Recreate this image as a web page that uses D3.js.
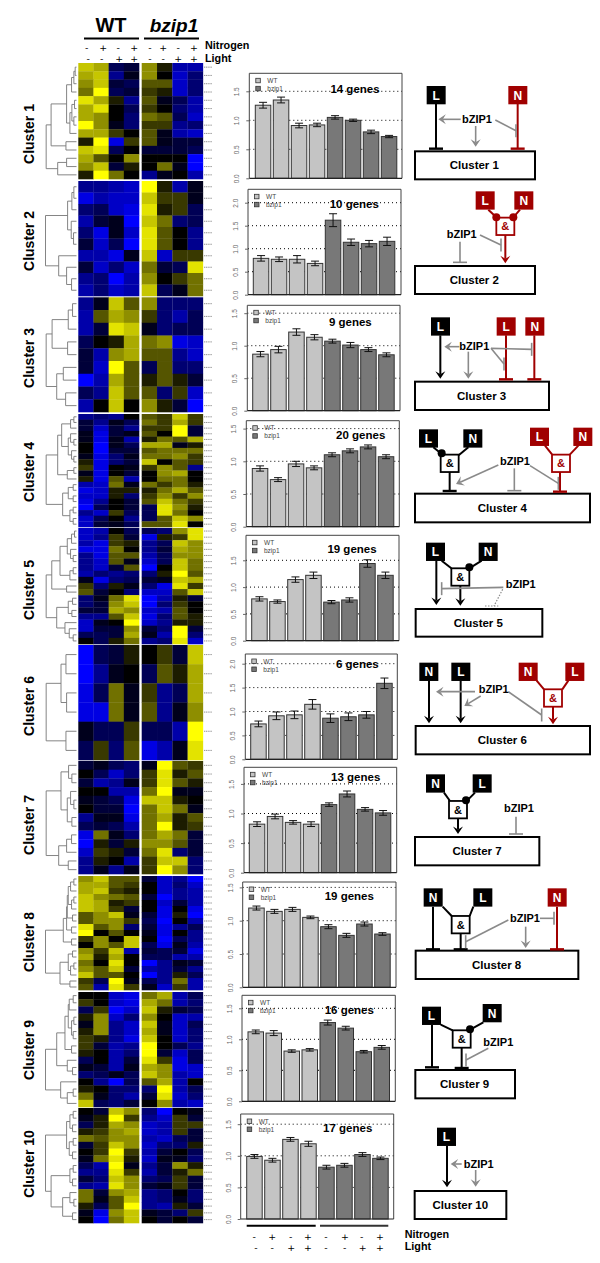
<!DOCTYPE html>
<html><head><meta charset="utf-8">
<script src="https://cdn.jsdelivr.net/npm/d3@7"></script>
<style>html,body{margin:0;padding:0;background:#fff}svg{display:block}text{font-family:"Liberation Sans",Arial,sans-serif}</style>
</head><body><svg id="c" width="600" height="1263"></svg>
<script>
// ---------- data: expression level, -9 (blue) .. +9 (yellow); columns WT x4 then bzip1 x4
const heat1=[[7,6,-3,-2,5,1,-6,-6],[6,7,-5,-1,5,0,-7,-4],[5,7,-2,-3,3,3,-7,-4],[4,9,-3,-2,2,1,-7,-4],[8,6,1,-5,3,-1,-3,-6],[6,8,0,-3,2,0,-4,-6],[6,5,0,-4,4,3,-3,-7],[9,5,-1,-4,2,2,-5,-4],[6,6,2,0,3,-1,-6,-7],[1,9,-8,2,3,-1,-2,-2],[7,8,-3,0,-2,-2,-2,-3],[6,3,0,5,0,0,0,-9],[5,7,-2,1,0,4,-1,-9],[1,9,4,0,-5,-1,0,-6]];
const heat2=[[-5,-5,-6,-7,9,1,-6,-1],[-8,-6,-7,-7,7,2,2,-1],[-4,-3,-7,-8,8,1,2,-3],[-6,-2,-1,-9,7,4,-4,-3],[-4,-8,-1,-7,8,3,0,-5],[-2,-7,-3,-9,8,3,0,-5],[-6,-6,-8,-1,7,-7,2,2],[-2,-7,-4,-7,4,-2,-3,8],[-5,-4,-9,-6,5,0,2,4],[-6,-4,-7,-6,7,-3,-1,4]];
const heat3=[[-5,-1,7,3,5,-4,-4,-4],[-6,3,6,5,2,-4,-6,-3],[-6,-2,8,7,-1,-4,-3,-3],[-3,0,1,6,4,5,-8,-7],[-2,-6,5,6,3,3,-5,-7],[-2,-7,9,3,-3,3,-4,-4],[-9,-6,6,3,1,3,1,-2],[-3,-5,7,3,3,-4,2,-7],[-6,0,7,0,5,1,-2,-9]];
const heat4=[[-5,-4,-5,0,3,2,7,2],[-2,-5,-1,-3,4,2,6,2],[-2,-7,-2,-5,2,2,9,-2],[-1,-8,-2,-1,3,0,9,-2],[-1,-8,-1,-6,1,4,3,6],[0,-9,-1,-3,6,6,-1,1],[0,-9,-2,-2,3,4,4,4],[-1,-8,-4,-1,4,4,5,2],[1,-8,-4,-2,7,0,3,2],[2,-8,0,-1,2,5,3,-5],[-1,-8,0,-2,0,5,6,0],[1,-8,3,-6,0,4,4,0],[-6,-7,4,-1,4,2,4,1],[-8,-7,1,1,1,4,6,3],[-7,-7,1,-4,2,5,2,5],[-8,-5,0,-2,3,7,4,2],[-9,-3,0,-2,-3,8,5,1],[-5,-7,2,-3,-3,8,4,0],[-7,-3,0,-5,-3,3,7,5],[-7,-2,-1,-3,3,3,8,0]];
const heat5=[[-7,-6,0,-3,-3,-4,5,8],[-7,-5,2,-2,-8,1,2,8],[-6,-8,2,1,-5,-3,7,5],[-8,-8,4,0,-5,-2,6,5],[-5,-8,3,3,-6,-3,5,5],[-5,-7,3,-1,-7,-3,7,4],[-5,-7,-2,3,-9,0,7,4],[-6,-4,-5,-4,-4,1,9,3],[-1,-8,-4,-3,-2,-1,7,6],[2,-4,1,-1,-4,-8,8,2],[3,-2,0,-4,-7,-7,3,7],[-4,-1,4,8,-9,-6,1,-2],[-4,-2,5,7,-9,-4,2,0],[-2,-2,6,5,-7,-6,3,0],[-5,-5,3,7,-8,-4,3,1],[-7,-1,0,9,-7,-5,1,1],[-7,-2,-2,5,-2,-4,9,-2],[-3,-3,-2,6,-1,-6,9,-4],[0,-3,1,4,-5,-4,8,-7]];
const heat6=[[-9,-3,-2,1,0,2,-2,7],[-9,-5,-1,0,-3,3,1,6],[-8,-3,4,-1,2,-5,-3,6],[-8,-8,4,-1,3,-5,-1,5],[-1,-3,-3,2,-3,-3,-6,9],[-3,2,-4,3,-8,-6,-1,8]];
const heat7=[[-2,-1,-3,-4,-1,9,3,2],[0,-3,-7,-4,2,8,1,3],[-2,-6,-5,-1,2,8,3,1],[0,0,-6,-6,4,9,-1,-1],[-1,-2,-3,-8,7,7,1,0],[0,-2,-2,-9,4,7,4,-1],[-5,-1,-1,-8,4,6,1,3],[-3,-2,-3,-6,4,9,1,2],[-8,4,-1,-4,4,6,4,-2],[-9,1,-2,1,5,5,3,-2],[-7,2,1,-2,4,8,-4,-2],[-5,1,0,-6,2,7,7,-4],[-5,-1,-5,-1,2,9,5,-4]];
const heat8=[[5,7,3,3,-2,-7,-5,-9],[6,6,3,2,0,-7,-4,-7],[6,7,2,1,0,-7,-5,-6],[7,5,4,3,-2,-9,-5,-6],[7,6,1,2,0,-7,-2,-6],[7,6,2,-2,0,-8,0,-8],[3,5,7,-1,-2,-8,1,-9],[3,5,5,2,-3,-9,0,-6],[8,3,5,-4,-2,-8,-5,-3],[9,0,3,0,-1,-8,0,-5],[2,5,0,7,0,-9,-3,-5],[0,5,3,7,-3,-8,-1,-6],[5,2,7,-6,-2,-3,-2,-8],[6,1,6,0,-3,-3,-6,-6],[4,0,8,0,-9,-5,-1,-2],[5,3,7,-2,-6,-5,-2,-5],[7,3,3,0,-9,-5,1,-3],[2,-3,9,-1,-3,-5,4,-6],[3,-6,8,2,-1,-7,2,-6]];
const heat9=[[0,0,-7,-8,4,6,-6,-3],[2,0,-7,-8,6,4,-6,-4],[-3,2,-9,-7,7,1,-2,-3],[1,5,-7,-4,5,0,-7,-6],[-1,5,-5,-7,7,-1,-7,-3],[1,5,-5,-7,6,-1,-7,-4],[2,1,-5,-8,7,0,-7,-4],[2,-2,-6,-5,9,0,-3,-5],[1,0,-6,-4,9,-2,-7,-3],[-3,0,-6,-2,8,2,-8,-3],[-1,-2,-6,-1,6,5,-8,-7],[-4,-3,-1,-3,7,5,-6,-7],[0,-5,-9,-3,3,6,-6,0],[1,0,-4,-4,-4,9,-6,-3],[4,-1,-4,-6,-2,8,-7,-4],[7,-3,-4,-2,0,5,-6,-7]];
const heat10=[[0,-2,7,5,-4,-9,0,-1],[-1,1,9,2,-5,-7,2,-2],[-3,1,6,5,-7,-6,2,2],[1,2,5,6,-7,-6,2,-2],[4,3,5,5,-6,-7,-3,-2],[-2,2,7,5,-7,-4,-4,1],[0,2,9,2,-6,-2,0,-3],[-1,4,8,1,-7,-1,-1,-4],[-3,-6,9,-1,-5,-2,5,1],[-5,-5,8,2,-6,-2,1,4],[-2,-4,7,5,-4,-3,2,-2],[-5,-6,8,5,-2,-1,2,-2],[4,-2,5,6,-5,-4,0,-4],[4,-1,3,7,-5,-4,-1,-4],[1,-3,3,9,-5,-6,1,-2],[-1,-8,5,7,-1,-2,-4,2],[0,-9,4,7,0,-2,0,-2]];
const heats=[heat1,heat2,heat3,heat4,heat5,heat6,heat7,heat8,heat9,heat10];

// dendrograms: [merge height, left, right], 0 = leaf
const tree1=[92,[77,[30,[15,[8,[4,0,0],0],0],[20,[14,[6,0,0],[8,0,0]],0]],[32,0,0]],[57,[30,0,0],0]];
const tree2=[94,[27,[14,[8,0,0],0],[16,0,[9,0,0]]],[54,0,[30,0,[15,0,0]]]];
const tree3=[92,[74,[25,[12,0,0],0],[27,0,0]],[60,[40,0,0],[33,0,0]]];
const tree4=[92,[57,[45,[18,[8,0,0],0],[25,[18,0,[8,0,0]],[15,0,[8,0,0]]]],[28,[8,0,0],0]],[42,[25,[10,0,0],[10,0,0]],[20,[10,0,0],[10,0,0]]]];
const tree5=[92,[75,[50,[28,[15,[6,0,0],0],[18,0,[10,0,0]]],[20,[10,0,0],0]],[30,0,0]],[60,[25,[12,0,0],[14,0,0]],[35,0,[22,0,[10,0,0]]]]];
const tree6=[92,[47,[32,0,0],[30,0,0]],[32,0,0]];
const tree7=[92,[47,[24,0,[14,0,0]],[28,[18,0,[8,0,0]],[14,0,0]]],[54,[30,[15,0,0],0],[25,0,0]]];
const tree8=[94,[40,[30,[28,[25,[18,[8,0,0],0],[15,[8,0,0],0]],[12,0,0]],[15,0,0]],[15,0,0]],[50,[25,[12,0,0],[18,[8,0,0],0]],[20,0,0]]];
const tree9=[94,[60,[35,[25,[22,[10,0,0],0],[15,[8,0,0],[10,0,0]]],[15,0,0]],[28,0,[12,0,0]]],[48,0,[28,[10,0,0],0]]];
const tree10=[94,[30,[20,[10,0,0],[12,0,0]],[22,[10,0,0],[12,0,0]]],[77,[20,[10,0,0],[12,0,0]],[42,[20,0,[8,0,0]],[12,0,0]]]];
const trees=[tree1,tree2,tree3,tree4,tree5,tree6,tree7,tree8,tree9,tree10];

// bar chart values
const conditions=["WT--","WT+-","WT-+","WT++","bz--","bz+-","bz-+","bz++"];
const means1=[1.26,1.35,.91,.92,1.05,1.0,.80,.72], errs1=[.05,.05,.04,.03,.03,.02,.03,.02];
const means2=[.79,.77,.77,.68,1.62,1.14,1.11,1.16], errs2=[.06,.05,.08,.05,.14,.07,.07,.09];
const means3=[.87,.94,1.21,1.13,1.07,1.01,.94,.86], errs3=[.04,.05,.05,.04,.03,.04,.03,.03];
const means4=[.89,.72,.96,.90,1.10,1.16,1.22,1.07], errs4=[.04,.03,.04,.03,.03,.03,.03,.03];
const means5=[.78,.73,1.14,1.22,.72,.76,1.44,1.22], errs5=[.04,.03,.05,.06,.03,.04,.07,.06];
const means6=[.74,.91,.93,1.15,.86,.89,.93,1.59], errs6=[.06,.08,.08,.10,.09,.08,.07,.11];
const means7=[.82,.95,.85,.82,1.15,1.33,1.07,1.01], errs7=[.04,.04,.03,.04,.03,.05,.03,.04];
const means8=[1.19,1.14,1.17,1.05,.91,.78,.95,.80], errs8=[.03,.03,.03,.02,.03,.03,.03,.02];
const means9=[1.12,1.10,.81,.83,1.27,1.18,.80,.87], errs9=[.03,.04,.02,.02,.04,.03,.02,.03];
const means10=[.99,.93,1.26,1.19,.82,.85,1.02,.96], errs10=[.03,.03,.03,.04,.03,.03,.03,.02];
const meansAll=[means1,means2,means3,means4,means5,means6,means7,means8,means9,means10];
const errsAll=[errs1,errs2,errs3,errs4,errs5,errs6,errs7,errs8,errs9,errs10];
const geneLabels=["14 genes","10 genes","9 genes","20 genes","19 genes","6 genes","13 genes","19 genes","16 genes","17 genes"];
const clusterNames=d3.range(1,11).map(i=>"Cluster "+i);
const axisTicks=[[0,.5,1,1.5],[0,.5,1,1.5,2],[0,.5,1,1.5],[0,.5,1,1.5],[0,.5,1,1.5],[0,.5,1,1.5,2],[0,.5,1,1.5],[0,.5,1,1.5],[0,.5,1,1.5],[0,.5,1,1.5]];
const nitrogenSigns=["-","+","-","+","-","+","-","+"], lightSigns=["-","-","+","+","-","-","+","+"];

// ---------- layout
const heatY=[[63,179],[181,296],[297.3,412],[414,527],[528,644],[645,760],[761,874],[876,990],[992,1107],[1108,1223]];
const clusterLabelY=[134,241,358,472,590,706,825,942,1050,1164];
// frame left, right, top, bottom(y of 0), px per 0.5, first bar x, count label cx, cy
const panels=[[249.3,402,73.3,178.3,29,255.3,355,89],[248,401,189.3,294.7,23,253.3,354.3,204],[247.3,400,305.3,410.7,32.5,252.7,350.3,321.7],[246.3,399.3,420.7,526.7,32.7,252.3,360.7,434.7],[246,399,535.3,640.7,26.8,251.7,352,548.7],[245.3,397.3,654,759.3,23.9,250.7,357.3,664.3],[244,396.7,767.3,872.7,29.6,249.3,355.7,777.3],[242.7,396,882,987.3,33.3,248.7,349.3,895.7],[242,395.3,995.3,1101.3,31,248,349.3,1009.7],[240.7,393.7,1114,1219,31.6,246.7,347.7,1127.7]];
const COL={k:"#000",r:"#a00000",g:"#8a8a8a"};

// schematic regulatory diagrams, coordinates in 3x units relative to an origin
const diagrams=[
{o:[220,60],box:[585,274,945,358],t:[763,316],bz:[771,178],nodes:[["L",620,78,"k"],["N",865,78,"r"]],ands:[],dots:[],lines:[],
 edges:[["tee",648,132,648,266,"k"],["tee",893,132,893,266,"r"],["arrow",722,178,655,178,"g"],["arrow",767,198,767,260,"g"],["tee",826,180,888,212,"g"]]},
{o:[220,60],box:[585,618,945,702],t:[763,660],bz:[725,522],nodes:[["L",767,394,"r"],["N",883,394,"r"]],ands:[[856,499,"r"]],dots:[[829,472,"r"],[880,472,"r"]],lines:[[805,449,829,472,"r"],[900,449,880,472,"r"]],
 edges:[["arrow",856,525,856,610,"r"],["tee",720,545,720,607,"g"],["tee",780,525,843,555,"g"]]},
{o:[220,300],box:[585,245,987,330],t:[785,288],bz:[763,138],nodes:[["L",633,52,"k"],["L",830,52,"r"],["N",916,52,"r"]],ands:[],dots:[],lines:[],
 edges:[["arrow",661,106,661,236,"k"],["tee",858,106,858,238,"r"],["tee",943,106,943,238,"r"],["arrow",718,140,673,140,"g"],["arrow",745,155,745,236,"g"],["tee",813,145,852,192,"g"],["tee",813,145,935,148,"g"]]},
{o:[220,300],box:[585,581,1110,667],t:[847,624],bz:[885,482],nodes:[["L",597,388,"k"],["N",730,388,"k"],["L",930,383,"r"],["N",1060,383,"r"]],ands:[[689,490,"k"],[1023,490,"r"]],dots:[[665,460,"k"]],lines:[[640,442,665,462,"k"],[745,442,716,466,"k"],[975,437,996,463,"r"],[1075,437,1050,463,"r"]],
 edges:[["tee",689,516,689,573,"k"],["tee",1020,516,1020,575,"r"],["tee",883,505,883,572,"g"],["arrow",835,495,708,552,"g"],["tee",930,497,1015,550,"g"]]},
{o:[220,300],box:[587,927,967,1010],t:[775,969],bz:[902,853],nodes:[["L",618,728,"k"],["N",776,728,"k"]],ands:[[721,831,"k"]],dots:[[748,802,"k"]],lines:[[665,782,694,805,"k"],[785,782,748,805,"k"]],
 edges:[["arrow",649,782,649,915,"k"],["arrow",721,857,721,917,"k"],["tee",850,862,665,866,"g"],["dot",848,868,822,918,"g"],["dot",795,918,835,918,"g"]]},
{o:[220,640],box:[587,258,1110,343],t:[847,300],bz:[821,148],nodes:[["N",598,68,"k"],["L",694,68,"k"],["N",896,68,"r"],["L",1036,68,"r"]],ands:[[999,174,"r"]],dots:[],lines:[[950,122,972,148,"r"],[1045,122,1027,148,"r"]],
 edges:[["arrow",627,122,627,250,"k"],["arrow",722,122,722,250,"k"],["arrow",999,200,999,253,"r"],["arrow",765,155,648,155,"g"],["arrow",782,168,733,198,"g"],["tee",865,155,965,225,"g"]]},
{o:[220,640],box:[585,591,958,676],t:[771,633],bz:[897,505],nodes:[["N",618,403,"k"],["L",758,403,"k"]],ands:[[714,509,"k"]],dots:[[738,481,"k"]],lines:[[672,458,690,483,"k"],[765,458,742,481,"k"]],
 edges:[["arrow",714,535,714,582,"k"],["tee",888,530,888,582,"g"]]},
{o:[220,640],box:[587,932,1075,1017],t:[830,974],bz:[915,835],nodes:[["N",611,745,"k"],["L",760,745,"k"],["N",983,745,"r"]],ands:[[722,854,"k"]],dots:[],lines:[[668,800,695,828,"k"],[760,800,749,828,"k"]],
 edges:[["tee",639,800,639,928,"k"],["tee",722,880,722,928,"k"],["tee",1011,800,1011,928,"r"],["tee",865,840,737,905,"g"],["arrow",917,860,917,924,"g"],["tee",960,835,1002,835,"g"]]},
{o:[220,980],box:[586,270,885,355],t:[734,312],bz:[835,186],nodes:[["L",606,80,"k"],["N",788,72,"k"]],ands:[[725,177,"k"]],dots:[[750,148,"k"]],lines:[[662,134,698,151,"k"],[790,127,752,148,"k"]],
 edges:[["tee",636,135,636,262,"k"],["tee",725,204,725,264,"k"],["tee",805,205,738,240,"g"]]},
{o:[220,980],box:[584,633,859,717],t:[721,675],bz:[776,552],nodes:[["L",651,443,"k"]],ands:[],dots:[],lines:[],
 edges:[["arrow",681,497,681,622,"k"],["arrow",725,552,692,552,"g"],["arrow",767,570,767,620,"g"]]}
];

// ---------- drawing
const svg=d3.select("#c");
const color=d3.scaleLinear().domain([-9,0,9]).range(["#0000ff","#000000","#ffff00"]);
const colWT=d3.scaleBand().domain(d3.range(4)).range([78.3,139]);
const colBZ=d3.scaleBand().domain(d3.range(4)).range([141.7,203]);
const txt=(g,x,y,s,o={})=>g.append("text").attr("x",x).attr("y",y).text(s)
  .attr("font-size",o.size||11).attr("font-weight",o.weight||"bold").attr("font-style",o.style||null)
  .attr("text-anchor",o.anchor||"middle").attr("fill",o.fill||"#000").attr("transform",o.tf||null);
const sign=(x,y,s)=>txt(svg,x,y,s,{size:9.4,weight:"normal"}).style("font-family","'DejaVu Sans',sans-serif");

// header
txt(svg,111,32,"WT",{size:20});
txt(svg,174,32,"bzip1",{size:19,style:"italic"});
svg.append("line").attr("x1",84).attr("x2",139).attr("y1",38.5).attr("y2",38.5).attr("stroke","#000").attr("stroke-width",2);
svg.append("line").attr("x1",144).attr("x2",199).attr("y1",38.5).attr("y2",38.5).attr("stroke","#000").attr("stroke-width",2);
const topX1=[86.7,103.3,118.3,134.3,150,163.3,178.3,194], topX2=[88.3,101.7,119.3,134.3,150,163.3,178.3,194];
nitrogenSigns.forEach((s,i)=>sign(topX1[i],51,s));
lightSigns.forEach((s,i)=>sign(topX2[i],62,s));
txt(svg,205,49,"Nitrogen",{size:10.8,anchor:"start"});
txt(svg,205,61.5,"Light",{size:10.8,anchor:"start"});

// heatmaps, dendrograms, labels
const dendX=d3.scaleLinear().domain([0,94]).range([76.5,45.5]);
heats.forEach((rows,ci)=>{
  const g=svg.append("g");
  const [top,bot]=heatY[ci];
  const yb=d3.scaleBand().domain(d3.range(rows.length)).range([top,bot]);
  rows.forEach((row,r)=>{
    g.selectAll(null).data(row).enter().append("rect")
      .attr("x",(v,i)=>i<4?colWT(i):colBZ(i-4))
      .attr("y",yb(r)).attr("width",colWT.bandwidth()+.3).attr("height",yb.bandwidth()+.3)
      .attr("fill",v=>color(v));
    g.append("line").attr("x1",204).attr("x2",212).attr("y1",yb(r)+yb.bandwidth()/2).attr("y2",yb(r)+yb.bandwidth()/2)
      .attr("stroke","#777").attr("stroke-width",.8).attr("stroke-dasharray","1.2,.6");
  });
  let leaf=0;
  const d=[];
  const walk=n=>{
    if(n===0){const y=yb(leaf)+yb.bandwidth()/2;leaf++;return {x:dendX(0),y};}
    const a=walk(n[1]),b=walk(n[2]),x=dendX(n[0]);
    d.push(`M${a.x},${a.y}H${x}V${b.y}H${b.x}`);
    return {x,y:(a.y+b.y)/2};
  };
  walk(trees[ci]);
  g.append("path").attr("d",d.join("")).attr("fill","none").attr("stroke","#777").attr("stroke-width",.9);
  txt(g,0,0,clusterNames[ci],{size:14,tf:`translate(34,${clusterLabelY[ci]}) rotate(-90)`});
});

// bar panels
panels.forEach((p,ci)=>{
  const [xl,xr,yt,y0,half,x0,cx,cy]=p;
  const g=svg.append("g");
  const x=d3.scaleBand().domain(conditions).range([x0,x0+8*18-2.5]).paddingInner(2.5/18).paddingOuter(0);
  const y=d3.scaleLinear().domain([0,1]).range([y0,y0-2*half]);
  const ticks=axisTicks[ci];
  g.selectAll(null).data(ticks.slice(1)).enter().append("line")
    .attr("x1",xl).attr("x2",xr).attr("y1",y).attr("y2",y)
    .attr("stroke","#000").attr("stroke-width",1).attr("stroke-dasharray","1,3");
  txt(g,cx,cy+4,geneLabels[ci],{size:11.5});
  g.selectAll(null).data(conditions).enter().append("rect")
    .attr("x",c=>x(c)).attr("width",x.bandwidth())
    .attr("y",(c,i)=>y(meansAll[ci][i])).attr("height",(c,i)=>y0-y(meansAll[ci][i]))
    .attr("fill",(c,i)=>i<4?"#c4c4c4":"#787878").attr("stroke","#333").attr("stroke-width",1);
  conditions.forEach((c,i)=>{
    const m=meansAll[ci][i],e=errsAll[ci][i],mx=x(c)+x.bandwidth()/2;
    const pth=`M${mx-4},${y(m+e)}H${mx+4}M${mx},${y(m+e)}V${y(m-e)}M${mx-4},${y(m-e)}H${mx+4}`;
    g.append("path").attr("d",pth).attr("fill","none").attr("stroke","#111").attr("stroke-width",1);
  });
  g.append("path").attr("d",`M${xl},${y0}V${yt}H${xr}V${y0}`).attr("fill","none").attr("stroke","#444").attr("stroke-width",1);
  g.append("line").attr("x1",xl).attr("x2",xr).attr("y1",y0).attr("y2",y0).attr("stroke","#222").attr("stroke-width",1.2);
  const ax=g.append("g").attr("transform",`translate(${xl},0)`)
    .call(d3.axisLeft(y).tickValues(ticks).tickSize(3).tickFormat(d3.format(".1f")));
  ax.select(".domain").remove();
  ax.selectAll("line").attr("stroke","#666");
  ax.selectAll("text").attr("font-family","'Liberation Sans',Arial,sans-serif").attr("font-size",6.5).attr("fill","#666")
    .attr("x",null).attr("dy",null).attr("text-anchor","middle")
    .attr("transform","translate(-10,0) rotate(-90)");
  // legend
  [["WT","#c4c4c4"],["bzip1","#787878"]].forEach((l,i)=>{
    g.append("rect").attr("x",xl+6.5).attr("y",yt+5+i*8).attr("width",4.5).attr("height",4.5).attr("fill",l[1]).attr("stroke","#333").attr("stroke-width",.8);
    txt(g,xl+18,yt+9.5+i*8,l[0],{size:6.5,weight:"normal",anchor:"start",fill:"#444"});
  });
});

// x-axis brackets under last panel
svg.append("line").attr("x1",246.7).attr("x2",315.7).attr("y1",1225.7).attr("y2",1225.7).attr("stroke","#000").attr("stroke-width",2);
svg.append("line").attr("x1",320).attr("x2",388.3).attr("y1",1225.7).attr("y2",1225.7).attr("stroke","#333").attr("stroke-width",2);
const botX1=[254.3,272.3,290.7,308,326,345,361.7,380], botX2=[256,272.3,291.3,308,326,344.7,362.7,380];
nitrogenSigns.forEach((s,i)=>sign(botX1[i],1240,s));
lightSigns.forEach((s,i)=>sign(botX2[i],1251,s));
txt(svg,404.7,1237.5,"Nitrogen",{size:10.8,anchor:"start"});
txt(svg,404.7,1250,"Light",{size:10.8,anchor:"start"});

// diagrams
diagrams.forEach((D,di)=>{
  const px=v=>D.o[0]+v/3, py=v=>D.o[1]+v/3;
  const g=svg.append("g");
  const b=D.box;
  g.append("rect").attr("x",px(b[0])).attr("y",py(b[1])).attr("width",(b[2]-b[0])/3).attr("height",(b[3]-b[1])/3)
    .attr("fill","#fff").attr("stroke","#000").attr("stroke-width",2);
  txt(g,px(D.t[0]),py(D.t[1])+4,clusterNames[di],{size:11.5});
  D.lines.forEach(l=>g.append("line").attr("x1",px(l[0])).attr("y1",py(l[1])).attr("x2",px(l[2])).attr("y2",py(l[3])).attr("stroke",COL[l[4]]).attr("stroke-width",2));
  D.edges.forEach(e=>{
    const [kind,a,bb,c,d,col]=e, x1=px(a),y1=py(bb),x2=px(c),y2=py(d),stroke=COL[col],w=col==="g"?1.6:2;
    if(kind==="dot"){g.append("line").attr("x1",x1).attr("y1",y1).attr("x2",x2).attr("y2",y2).attr("stroke",stroke).attr("stroke-width",1.2).attr("stroke-dasharray","1.5,1.5");return;}
    const ang=Math.atan2(y2-y1,x2-x1),ux=Math.cos(ang),uy=Math.sin(ang);
    if(kind==="arrow"){
      const L=7.5,H=5,N=4.5;
      g.append("line").attr("x1",x1).attr("y1",y1).attr("x2",x2-ux*N).attr("y2",y2-uy*N).attr("stroke",stroke).attr("stroke-width",w);
      g.append("path").attr("d",`M${x2},${y2}L${x2-ux*L-uy*H},${y2-uy*L+ux*H}L${x2-ux*N},${y2-uy*N}L${x2-ux*L+uy*H},${y2-uy*L-ux*H}Z`).attr("fill",stroke);
    } else {
      g.append("line").attr("x1",x1).attr("y1",y1).attr("x2",x2).attr("y2",y2).attr("stroke",stroke).attr("stroke-width",w);
      const vertical=a!==c;
      g.append("line").attr("x1",vertical?x2:x2-7).attr("x2",vertical?x2:x2+7)
        .attr("y1",vertical?y2-6.5:y2).attr("y2",vertical?y2+6.5:y2).attr("stroke",stroke).attr("stroke-width",col==="g"?1.6:2.4);
    }
  });
  D.nodes.forEach(n=>{
    g.append("rect").attr("x",px(n[1])).attr("y",py(n[2])).attr("width",19).attr("height",18.3).attr("fill",COL[n[3]]);
    txt(g,px(n[1])+9.5,py(n[2])+13.5,n[0],{size:12,fill:"#fff"});
  });
  D.ands.forEach(a=>{
    g.append("rect").attr("x",px(a[0])-9).attr("y",py(a[1])-8.7).attr("width",18).attr("height",17.4).attr("fill","#fff").attr("stroke",COL[a[2]]).attr("stroke-width",1.8);
    txt(g,px(a[0]),py(a[1])+4,"&",{size:11,fill:COL[a[2]]});
  });
  D.dots.forEach(c=>g.append("circle").attr("cx",px(c[0])).attr("cy",py(c[1])).attr("r",4).attr("fill",COL[c[2]]));
  txt(g,px(D.bz[0]),py(D.bz[1])+4,"bZIP1",{size:11});
});
</script></body></html>
